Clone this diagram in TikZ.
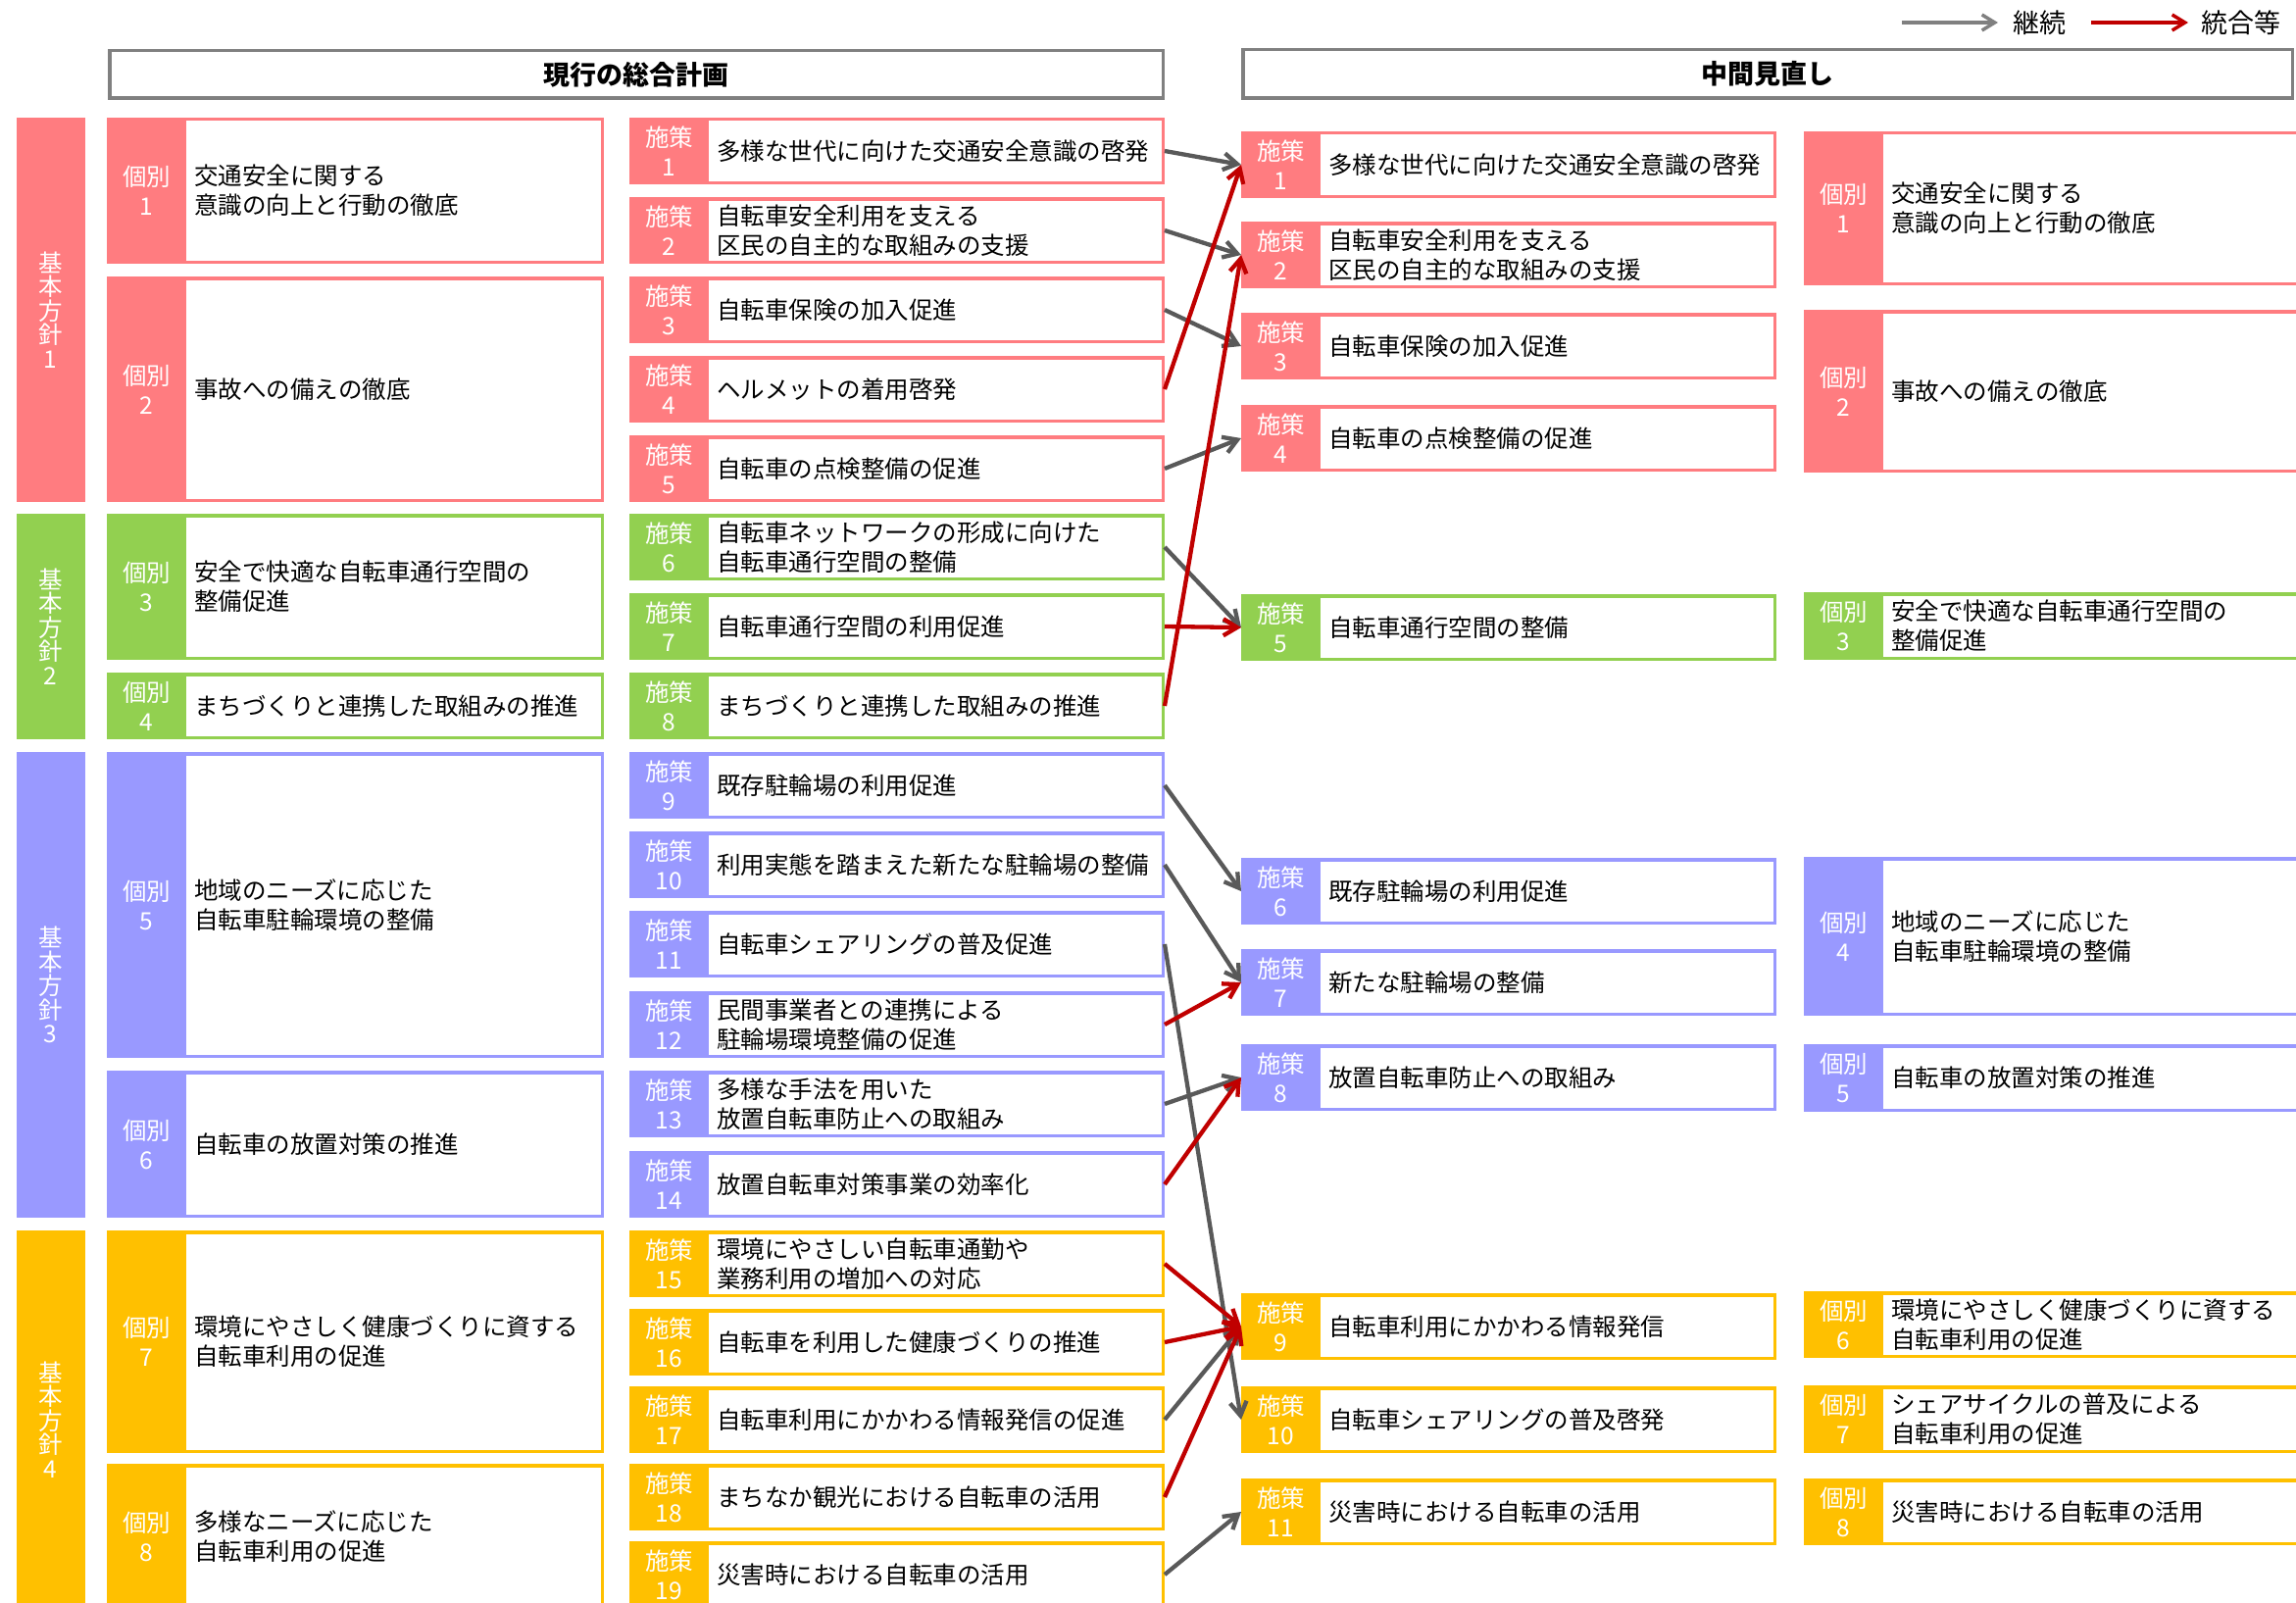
\documentclass[tikz,border=0pt]{standalone}
\usepackage{fontspec}
\setmainfont{Noto Sans CJK JP}
\usetikzlibrary{arrows.meta}
\definecolor{cpink}{HTML}{FF7C80}
\definecolor{cgreen}{HTML}{92D050}
\definecolor{cpurple}{HTML}{9999FF}
\definecolor{cyellow}{HTML}{FFC000}
\definecolor{cred}{HTML}{C00000}
\definecolor{cgrey}{HTML}{595959}
\definecolor{clgrey}{HTML}{808080}
% #1 name, #2 left, #3 right, #4 top, #5 bottom, #6 colour, #7 label, #8 text
\newcommand{\plbox}[8]{%
  \node[boxsty, draw=#6, minimum width={#3-#2-3.5}, minimum height={#5-#4-3.5}] (#1) at ({(#2+#3)/2},{(#4+#5)/2}) {};
  \fill[#6] (#2,#4) rectangle ({#2+81},#5);
  \node[labsty] (#1l) at ({#2+40.5},{(#4+#5)/2}) {#7};
  \node[txtsty] (#1t) at ({#2+89},{(#4+#5)/2}) {#8};
}
\begin{document}
\begin{tikzpicture}[x=1pt,y=-1pt,
  boxsty/.style={fill=white, line width=3.5pt, inner sep=0pt},
  labsty/.style={text=white, align=center, inner sep=0pt, font=\fontsize{24.5pt}{30pt}\selectfont},
  txtsty/.style={anchor=west, align=left, inner sep=0pt, font=\fontsize{24.5pt}{30pt}\selectfont},
  barsty/.style={inner sep=0pt, minimum width=69.5pt, text=white, align=center, font=\fontsize{24.5pt}{24.5pt}\selectfont},
  hdrsty/.style={draw=clgrey, fill=white, line width=3.5pt, inner sep=0pt, font=\fontsize{27pt}{32pt}\selectfont\bfseries},
  legsty/.style={inner sep=0pt, anchor=west, font=\fontsize{27pt}{32pt}\selectfont},
  conng/.style={draw=cgrey, line width=4.3pt, -{Straight Barb[length=14pt,width=17pt]}},
  connr/.style={draw=cred, line width=4.3pt, -{Straight Barb[length=14pt,width=17pt]}},
  legg/.style={draw=clgrey, line width=3.5pt, -{Straight Barb[length=13pt,width=16pt]}},
  legr/.style={draw=cred, line width=3.5pt, -{Straight Barb[length=13pt,width=16pt]}},
]
\useasboundingbox (0,0) rectangle (2342,1635);
\clip (0,0) rectangle (2342,1635);

% legend
\coordinate (lg1s) at (1940,23);
\node[legsty] (lg1) at (2053,23) {継続};
\coordinate (lg2s) at (2133,23);
\node[legsty] (lg2) at (2245,23) {統合等};
\draw[legg, shorten >=15pt] (lg1s) -- (lg1.west);
\draw[legr, shorten >=13pt] (lg2s) -- (lg2.west);

% headers
\node[hdrsty, minimum width=1074.5, minimum height=48.5] (h1) at (649,76) {現行の総合計画};
\node[hdrsty, minimum width=1070.5, minimum height=49.5] (h2) at (1803,75.5) {中間見直し};

% basic policy bars
\node[barsty, fill=cpink, minimum height=392] (b1) at (51.75,316) {基\\本\\方\\針\\1};
\node[barsty, fill=cgreen, minimum height=230] (b2) at (51.75,639) {基\\本\\方\\針\\2};
\node[barsty, fill=cpurple, minimum height=475] (b3) at (51.75,1004.5) {基\\本\\方\\針\\3};
\node[barsty, fill=cyellow, minimum height=386] (b4) at (51.75,1448) {基\\本\\方\\針\\4};

% old individual
\plbox{k1}{109}{616}{120}{269}{cpink}{個別\\1}{交通安全に関する\\意識の向上と行動の徹底}
\plbox{k2}{109}{616}{282}{512}{cpink}{個別\\2}{事故への備えの徹底}
\plbox{k3}{109}{616}{524}{673}{cgreen}{個別\\3}{安全で快適な自転車通行空間の\\整備促進}
\plbox{k4}{109}{616}{686}{754}{cgreen}{個別\\4}{まちづくりと連携した取組みの推進}
\plbox{k5}{109}{616}{767}{1079}{cpurple}{個別\\5}{地域のニーズに応じた\\自転車駐輪環境の整備}
\plbox{k6}{109}{616}{1092}{1242}{cpurple}{個別\\6}{自転車の放置対策の推進}
\plbox{k7}{109}{616}{1255}{1482}{cyellow}{個別\\7}{環境にやさしく健康づくりに資する\\自転車利用の促進}
\plbox{k8}{109}{616}{1493}{1641}{cyellow}{個別\\8}{多様なニーズに応じた\\自転車利用の促進}

% old measures
\plbox{o1}{642}{1188}{120}{188}{cpink}{施策\\1}{多様な世代に向けた交通安全意識の啓発}
\plbox{o2}{642}{1188}{201}{269}{cpink}{施策\\2}{自転車安全利用を支える\\区民の自主的な取組みの支援}
\plbox{o3}{642}{1188}{282}{350}{cpink}{施策\\3}{自転車保険の加入促進}
\plbox{o4}{642}{1188}{363}{431}{cpink}{施策\\4}{ヘルメットの着用啓発}
\plbox{o5}{642}{1188}{444}{512}{cpink}{施策\\5}{自転車の点検整備の促進}
\plbox{o6}{642}{1188}{524}{592}{cgreen}{施策\\6}{自転車ネットワークの形成に向けた\\自転車通行空間の整備}
\plbox{o7}{642}{1188}{605}{673}{cgreen}{施策\\7}{自転車通行空間の利用促進}
\plbox{o8}{642}{1188}{686}{754}{cgreen}{施策\\8}{まちづくりと連携した取組みの推進}
\plbox{o9}{642}{1188}{767}{835}{cpurple}{施策\\9}{既存駐輪場の利用促進}
\plbox{o10}{642}{1188}{848}{916}{cpurple}{施策\\10}{利用実態を踏まえた新たな駐輪場の整備}
\plbox{o11}{642}{1188}{929}{997}{cpurple}{施策\\11}{自転車シェアリングの普及促進}
\plbox{o12}{642}{1188}{1011}{1079}{cpurple}{施策\\12}{民間事業者との連携による\\駐輪場環境整備の促進}
\plbox{o13}{642}{1188}{1092}{1160}{cpurple}{施策\\13}{多様な手法を用いた\\放置自転車防止への取組み}
\plbox{o14}{642}{1188}{1174}{1242}{cpurple}{施策\\14}{放置自転車対策事業の効率化}
\plbox{o15}{642}{1188}{1255}{1323}{cyellow}{施策\\15}{環境にやさしい自転車通勤や\\業務利用の増加への対応}
\plbox{o16}{642}{1188}{1335}{1403}{cyellow}{施策\\16}{自転車を利用した健康づくりの推進}
\plbox{o17}{642}{1188}{1414}{1482}{cyellow}{施策\\17}{自転車利用にかかわる情報発信の促進}
\plbox{o18}{642}{1188}{1493}{1561}{cyellow}{施策\\18}{まちなか観光における自転車の活用}
\plbox{o19}{642}{1188}{1572}{1640}{cyellow}{施策\\19}{災害時における自転車の活用}

% new measures
\plbox{n1}{1266}{1812}{134}{202}{cpink}{施策\\1}{多様な世代に向けた交通安全意識の啓発}
\plbox{n2}{1266}{1812}{226}{294}{cpink}{施策\\2}{自転車安全利用を支える\\区民の自主的な取組みの支援}
\plbox{n3}{1266}{1812}{319}{387}{cpink}{施策\\3}{自転車保険の加入促進}
\plbox{n4}{1266}{1812}{413}{481}{cpink}{施策\\4}{自転車の点検整備の促進}
\plbox{n5}{1266}{1812}{606}{674}{cgreen}{施策\\5}{自転車通行空間の整備}
\plbox{n6}{1266}{1812}{875}{943}{cpurple}{施策\\6}{既存駐輪場の利用促進}
\plbox{n7}{1266}{1812}{968}{1036}{cpurple}{施策\\7}{新たな駐輪場の整備}
\plbox{n8}{1266}{1812}{1065}{1133}{cpurple}{施策\\8}{放置自転車防止への取組み}
\plbox{n9}{1266}{1812}{1319}{1387}{cyellow}{施策\\9}{自転車利用にかかわる情報発信}
\plbox{n10}{1266}{1812}{1414}{1482}{cyellow}{施策\\10}{自転車シェアリングの普及啓発}
\plbox{n11}{1266}{1812}{1508}{1576}{cyellow}{施策\\11}{災害時における自転車の活用}

% new individual
\plbox{m1}{1840}{2400}{134}{291}{cpink}{個別\\1}{交通安全に関する\\意識の向上と行動の徹底}
\plbox{m2}{1840}{2400}{316}{482}{cpink}{個別\\2}{事故への備えの徹底}
\plbox{m3}{1840}{2400}{604}{673}{cgreen}{個別\\3}{安全で快適な自転車通行空間の\\整備促進}
\plbox{m4}{1840}{2400}{874}{1036}{cpurple}{個別\\4}{地域のニーズに応じた\\自転車駐輪環境の整備}
\plbox{m5}{1840}{2400}{1065}{1134}{cpurple}{個別\\5}{自転車の放置対策の推進}
\plbox{m6}{1840}{2400}{1317}{1385}{cyellow}{個別\\6}{環境にやさしく健康づくりに資する\\自転車利用の促進}
\plbox{m7}{1840}{2400}{1413}{1482}{cyellow}{個別\\7}{シェアサイクルの普及による\\自転車利用の促進}
\plbox{m8}{1840}{2400}{1508}{1576}{cyellow}{個別\\8}{災害時における自転車の活用}

% connectors: continued (grey)
\draw[conng] (o1.east) -- (n1.west);
\draw[conng] (o2.east) -- (n2.west);
\draw[conng] (o3.east) -- (n3.west);
\draw[conng] (o5.east) -- (n4.west);
\draw[conng] (o6.east) -- (n5.west);
\draw[conng] (o9.east) -- (n6.west);
\draw[conng] (o10.east) -- (n7.west);
\draw[conng] (o11.east) -- (n10.west);
\draw[conng] (o13.east) -- (n8.west);
\draw[conng] (o17.east) -- (n9.west);
\draw[conng] (o19.east) -- (n11.west);
% connectors: merged (red)
\draw[connr] (o4.east) -- (n1.west);
\draw[connr] (o8.east) -- (n2.west);
\draw[connr] (o7.east) -- (n5.west);
\draw[connr] (o12.east) -- (n7.west);
\draw[connr] (o14.east) -- (n8.west);
\draw[connr] (o15.east) -- (n9.west);
\draw[connr] (o16.east) -- (n9.west);
\draw[connr] (o18.east) -- (n9.west);
\end{tikzpicture}
\end{document}
